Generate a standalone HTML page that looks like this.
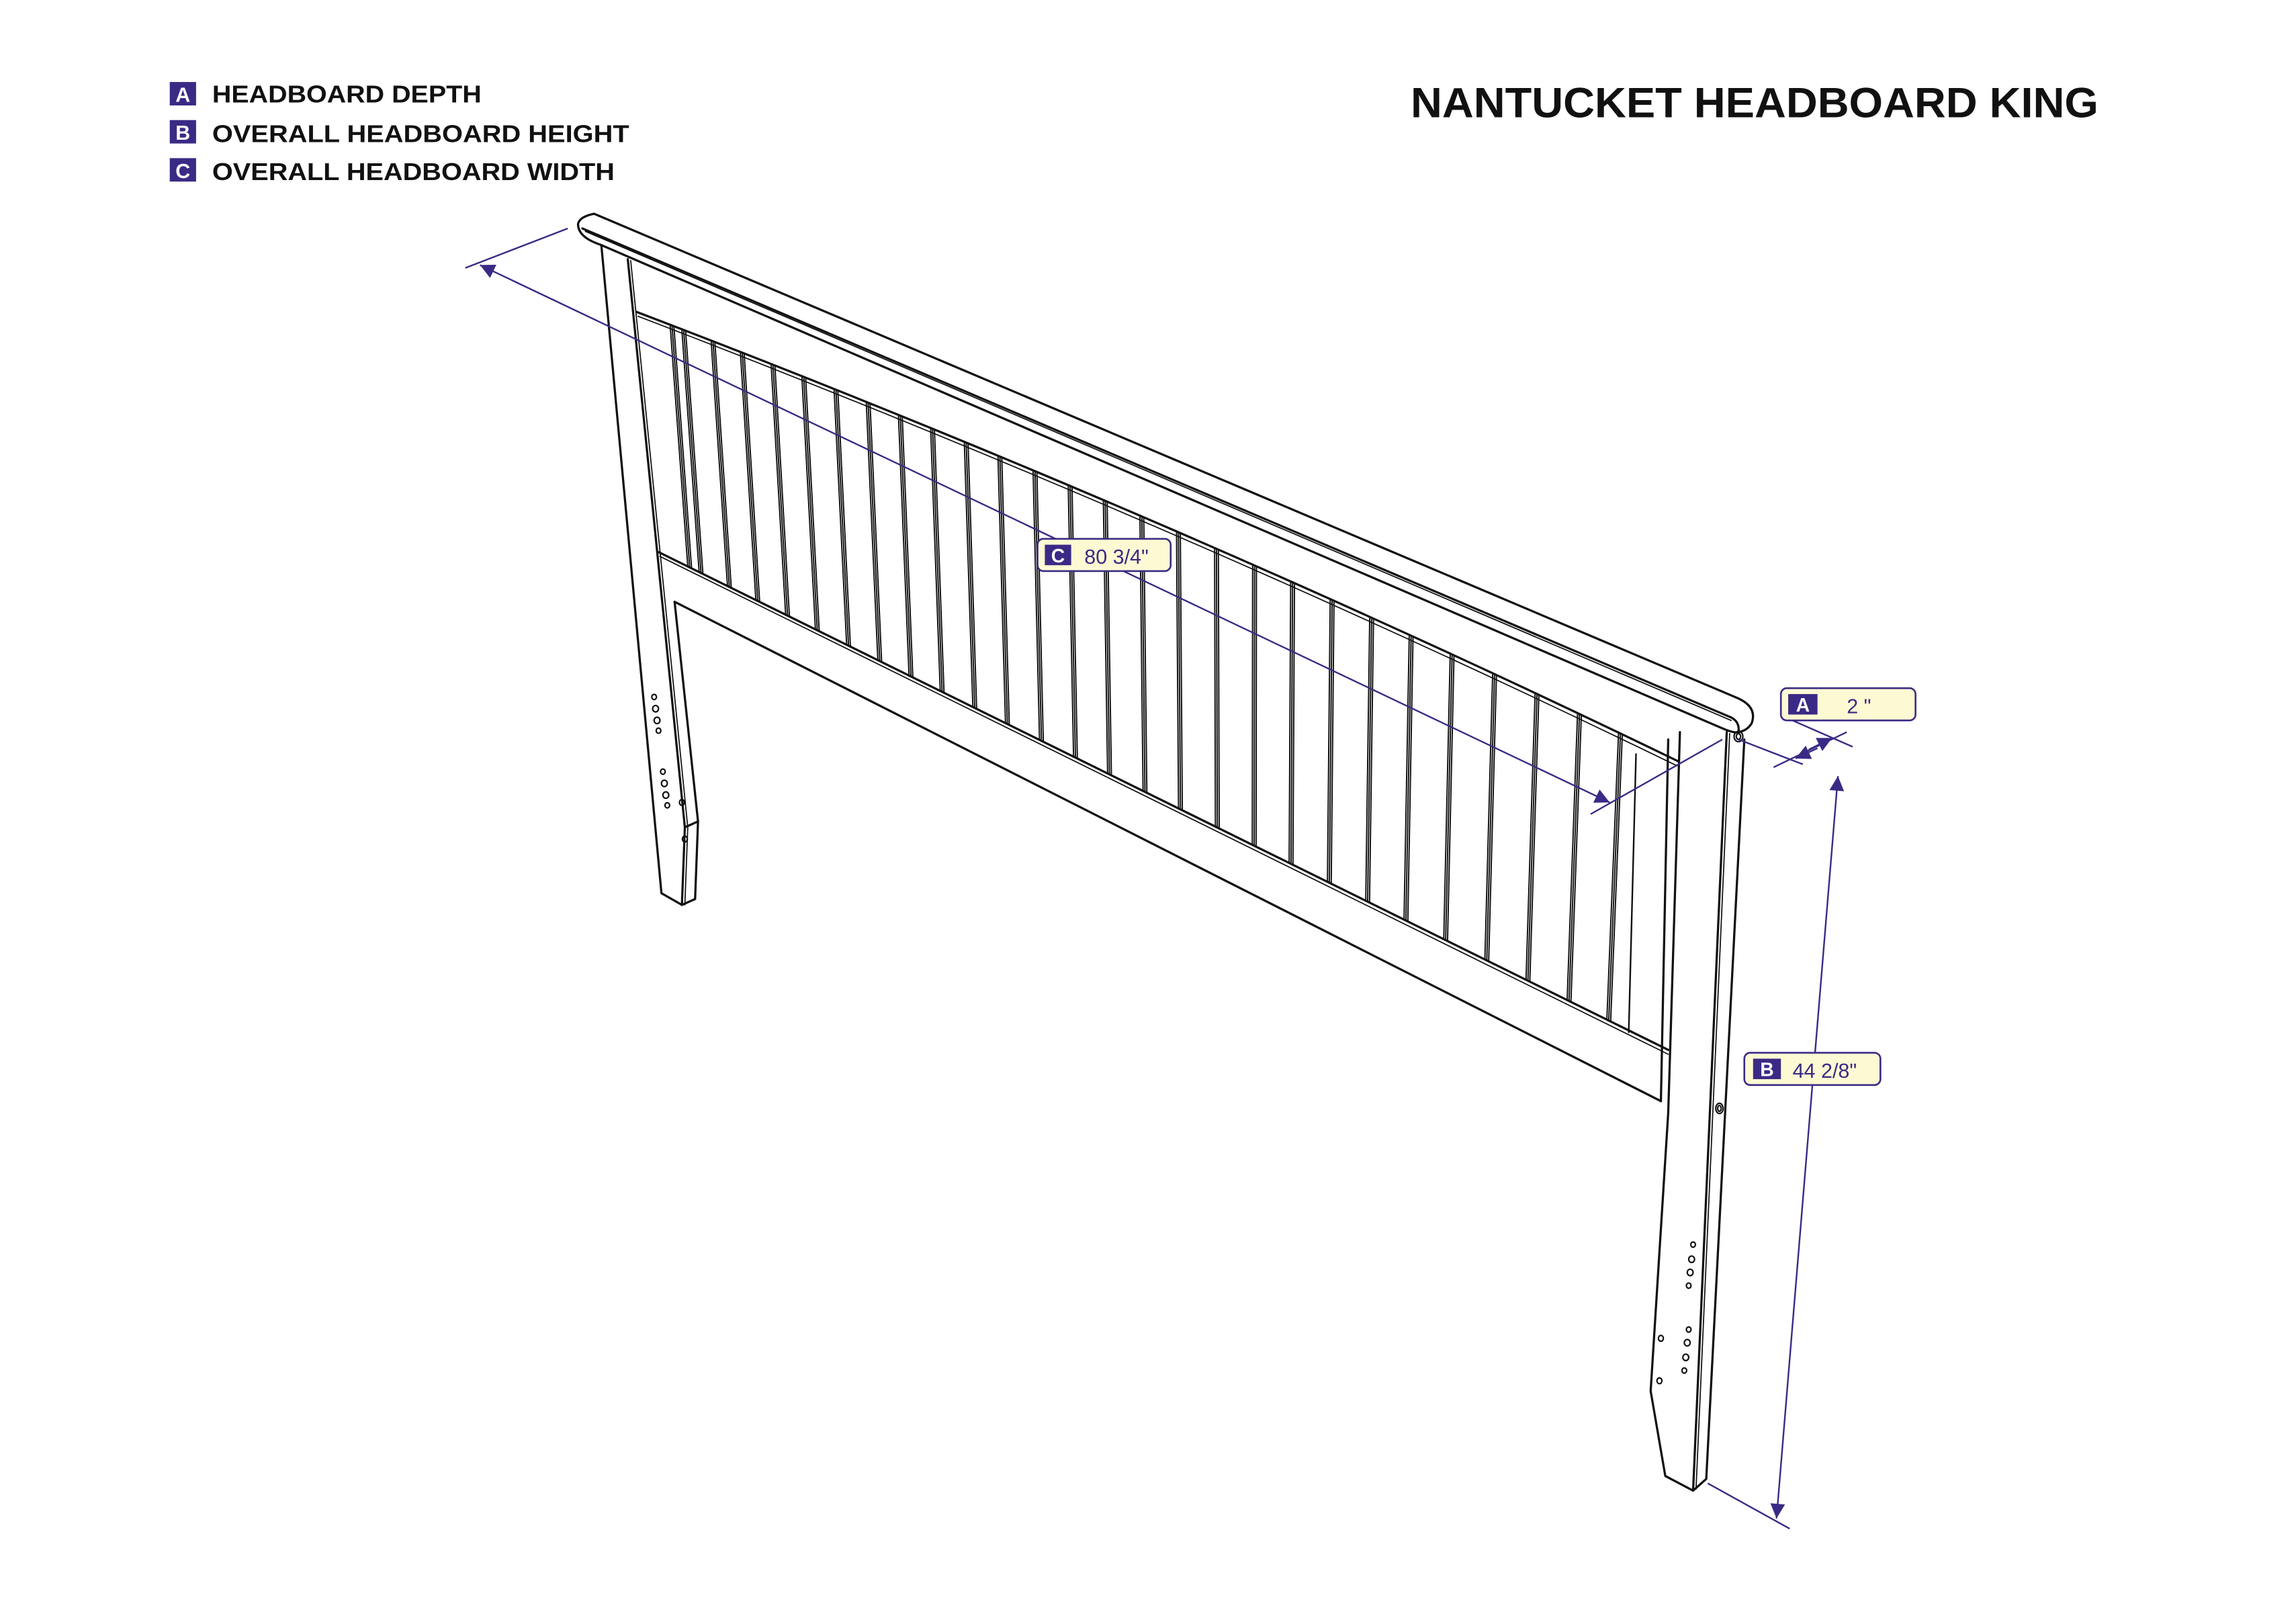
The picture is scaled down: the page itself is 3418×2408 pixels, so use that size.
<!DOCTYPE html>
<html><head><meta charset="utf-8"><style>
html,body{margin:0;padding:0;background:#fff;}
svg{display:block;}
</style></head><body>
<svg id="s" xmlns="http://www.w3.org/2000/svg" width="3418" height="2408" viewBox="0 0 1569 1105" preserveAspectRatio="none">
<defs>
<marker id="ar" viewBox="0 0 10 10" refX="10" refY="5" markerWidth="11" markerHeight="10" markerUnits="userSpaceOnUse" orient="auto-start-reverse">
<path d="M0,0 L10,5 L0,10 z" fill="#3b2a85"/></marker>
</defs>
<rect width="1569" height="1105" fill="#fff"/>
<g font-family="Liberation Sans, sans-serif" font-weight="bold">
<rect x="116" y="56" width="18" height="16" fill="#3b2a85"/><text x="125" y="69.5" font-size="14" fill="#fff" text-anchor="middle">A</text>
<rect x="116" y="82" width="18" height="16" fill="#3b2a85"/><text x="125" y="95.5" font-size="14" fill="#fff" text-anchor="middle">B</text>
<rect x="116" y="108" width="18" height="16" fill="#3b2a85"/><text x="125" y="121.5" font-size="14" fill="#fff" text-anchor="middle">C</text>
<text x="145" y="70" font-size="16.5" fill="#111" textLength="184" lengthAdjust="spacingAndGlyphs">HEADBOARD DEPTH</text>
<text x="145" y="97" font-size="16.5" fill="#111" textLength="285" lengthAdjust="spacingAndGlyphs">OVERALL HEADBOARD HEIGHT</text>
<text x="145" y="123" font-size="16.5" fill="#111" textLength="275" lengthAdjust="spacingAndGlyphs">OVERALL HEADBOARD WIDTH</text>
<text x="964" y="80" font-size="29" fill="#111" textLength="470" lengthAdjust="spacingAndGlyphs">NANTUCKET HEADBOARD KING</text>
</g>
<g fill="none" stroke="#111" stroke-width="1.5" stroke-linejoin="round" stroke-linecap="round">
<path d="M406,146 L1188,477 Q1201,483 1197,494 Q1194,499 1188,500"/>
<path d="M406,146 Q396,148 395,153 Q395,162 410,167 L1176,497 Q1185,501 1188,500"/>
<path d="M398,156 L1183,490 Q1189,493 1188,500"/>
<path d="M400,158 L1183,492" stroke-width="0.8"/>
<path d="M411,168 L452,610 L466,618 L475,614 L477,561 L461,411"/>
<path d="M429,177 L468,565 L466,618"/>
<path d="M431,178 L470,565 L468,618" stroke-width="0.8"/>
<path d="M468,565 L477,561"/>
<path id="ptop" d="M435,213 Q800,352 1147,520"/>
<path d="M436,216 Q800,355 1146,523" stroke-width="0.8"/>
<path d="M450,377 L1140,717"/>
<path d="M451,380 L1140,720" stroke-width="0.8"/>
<path d="M461,411 L1135,752"/>
<path d="M1140,505 L1135,752"/>
<path d="M1148,500 L1140,760 L1128,950 L1138,1008 L1157,1018 L1166,1010 L1192,505"/>
<path d="M1180,500 L1157,1018"/>
<path d="M1182,501 L1159,1017" stroke-width="0.8"/>
<path d="M1118,515 L1113,705" stroke-width="1.1"/>
<g id="slats" stroke-width="0.9"></g>
<g stroke-width="1">
<ellipse cx="1188" cy="503" rx="3" ry="3.5"/><ellipse cx="1188" cy="503" rx="1.5" ry="2"/>
<ellipse cx="1175" cy="757" rx="2.5" ry="3.5"/><ellipse cx="1175" cy="757" rx="1.2" ry="2"/>
<ellipse cx="447" cy="476" rx="1.6" ry="1.8"/><ellipse cx="448" cy="484" rx="2" ry="2.2"/><ellipse cx="449" cy="492" rx="2" ry="2.2"/><ellipse cx="450" cy="499" rx="1.6" ry="1.8"/>
<ellipse cx="453" cy="527" rx="1.6" ry="1.8"/><ellipse cx="454" cy="535" rx="2" ry="2.2"/><ellipse cx="455" cy="543" rx="2" ry="2.2"/><ellipse cx="456" cy="550" rx="1.6" ry="1.8"/>
<ellipse cx="466" cy="548" rx="1.7" ry="2"/><ellipse cx="468" cy="573" rx="1.7" ry="2"/>
<ellipse cx="1157" cy="850" rx="1.6" ry="1.8"/><ellipse cx="1156" cy="860" rx="2" ry="2.2"/><ellipse cx="1155" cy="869" rx="2" ry="2.2"/><ellipse cx="1154" cy="878" rx="1.6" ry="1.8"/>
<ellipse cx="1154" cy="908" rx="1.6" ry="1.8"/><ellipse cx="1153" cy="917" rx="2" ry="2.2"/><ellipse cx="1152" cy="927" rx="2" ry="2.2"/><ellipse cx="1151" cy="936" rx="1.6" ry="1.8"/>
<ellipse cx="1135" cy="914" rx="1.7" ry="2"/><ellipse cx="1134" cy="943" rx="1.7" ry="2"/>
</g>
</g>
<g stroke="#3b2a85" stroke-width="1.1" fill="none">
<line x1="318" y1="183" x2="388" y2="156"/>
<line x1="1087" y1="556" x2="1177" y2="505"/>
<line x1="1100" y1="548" x2="328" y2="181" marker-end="url(#ar)" marker-start="url(#ar)"/>
<line x1="1188" y1="505" x2="1232" y2="522"/>
<line x1="1218" y1="489" x2="1266" y2="510"/>
<line x1="1212" y1="524" x2="1262" y2="500"/>
<line x1="1242" y1="511" x2="1227" y2="518" marker-end="url(#ar)"/>
<line x1="1236" y1="512" x2="1252" y2="504" marker-end="url(#ar)"/>
<line x1="1167" y1="1013" x2="1223" y2="1044"/>
<line x1="1214" y1="1037" x2="1256" y2="530" marker-end="url(#ar)" marker-start="url(#ar)"/>
</g>
<g font-family="Liberation Sans, sans-serif">
<rect x="709" y="368" width="91" height="22" rx="4" fill="#fdf9d3" stroke="#3b2a85" stroke-width="1.2"/>
<rect x="714" y="372" width="18" height="14" fill="#3b2a85"/><text x="723" y="384" font-size="13" font-weight="bold" fill="#fff" text-anchor="middle">C</text>
<text x="741" y="385" font-size="14" fill="#3b2a85">80 3/4"</text>
<rect x="1217" y="470" width="92" height="22" rx="4" fill="#fdf9d3" stroke="#3b2a85" stroke-width="1.2"/>
<rect x="1222" y="474" width="20" height="14" fill="#3b2a85"/><text x="1232" y="486" font-size="13" font-weight="bold" fill="#fff" text-anchor="middle">A</text>
<text x="1262" y="487" font-size="14" fill="#3b2a85">2 "</text>
<rect x="1192" y="719" width="93" height="22" rx="4" fill="#fdf9d3" stroke="#3b2a85" stroke-width="1.2"/>
<rect x="1198" y="723" width="19" height="14" fill="#3b2a85"/><text x="1207.5" y="735" font-size="13" font-weight="bold" fill="#fff" text-anchor="middle">B</text>
<text x="1225" y="736" font-size="14" fill="#3b2a85">44 2/8"</text>
</g>
</svg>
<script>
(function(){
var tops=[458,466,486,506,527,548,570,592,614,636,659,682,706,730,754,779,804,830,856,882,909,936,963,991,1020,1049,1078,1106];
var p=document.getElementById('ptop'),L=p.getTotalLength();
function ytop(x){var lo=0,hi=L;for(var k=0;k<30;k++){var m=(lo+hi)/2;if(p.getPointAtLength(m).x<x)lo=m;else hi=m;}return p.getPointAtLength(lo).y;}
function ybot(x){return 377+(x-450)*0.4927;}
var g=document.getElementById('slats'),s='';
tops.forEach(function(t){var lean=12-20*(t-458)/650;
for(var j=0;j<3;j++){var x=t+j*1.3,b=x+lean;
s+='<line x1="'+x+'" y1="'+(ytop(x)+1)+'" x2="'+b+'" y2="'+ybot(b)+'"/>';}});
g.innerHTML=s;})();
</script>
</body></html>
